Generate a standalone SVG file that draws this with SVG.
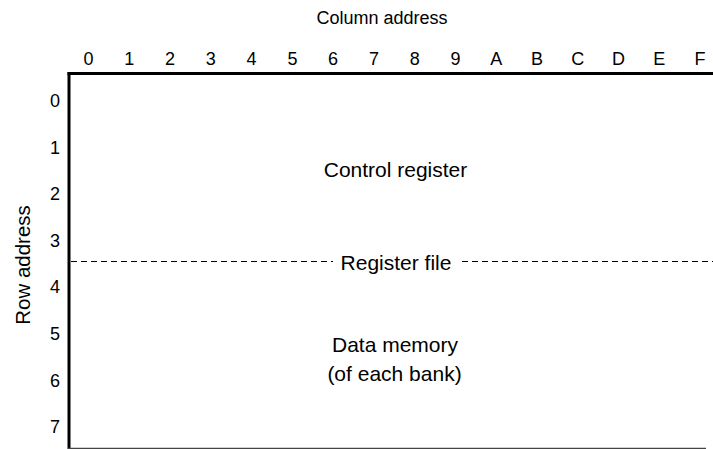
<svg xmlns="http://www.w3.org/2000/svg" width="713" height="449" viewBox="0 0 713 449">
<style>
text{font-family:"Liberation Sans",Arial,sans-serif;font-size:18px;fill:#000;text-anchor:middle}
.big{font-size:21px}
.axis{stroke:#000;stroke-width:3;fill:none}
.dash{stroke:#000;stroke-width:1.2;stroke-dasharray:6 4;fill:none}
</style>
<rect width="713" height="449" fill="#fff"/>
<g id="column-axis">
<text x="382" y="24">Column address</text>
<text x="88.5" y="65">0</text><text x="129.3" y="65">1</text><text x="170" y="65">2</text><text x="210.8" y="65">3</text>
<text x="251.6" y="65">4</text><text x="292.4" y="65">5</text><text x="333.1" y="65">6</text><text x="373.9" y="65">7</text>
<text x="414.7" y="65">8</text><text x="455.4" y="65">9</text><text x="496.2" y="65">A</text><text x="537" y="65">B</text>
<text x="577.7" y="65">C</text><text x="618.5" y="65">D</text><text x="659.3" y="65">E</text><text x="700" y="65">F</text>
</g>
<g id="row-axis">
<text class="big" style="font-size:20.5px" transform="translate(30,265) rotate(-90)">Row address</text>
<text x="55" y="107">0</text><text x="55" y="153.6">1</text><text x="55" y="200.2">2</text><text x="55" y="246.8">3</text>
<text x="55" y="293.4">4</text><text x="55" y="340">5</text><text x="55" y="386.6">6</text><text x="55" y="433.2">7</text>
</g>
<g id="frame">
<line class="axis" x1="67.5" y1="73.5" x2="713" y2="73.5"/>
<line class="axis" x1="69" y1="72" x2="69" y2="449"/>
<line x1="68" y1="448.5" x2="706" y2="448.5" stroke="#444" stroke-width="1.5"/>
</g>
<g id="connectors">
<line class="dash" x1="71" y1="261.5" x2="333" y2="261.5"/>
<line class="dash" x1="462" y1="261.5" x2="713" y2="261.5"/>
</g>
<g id="control-register"><text class="big" x="395.5" y="177">Control register</text></g>
<g id="register-file"><text class="big" x="396" y="270">Register file</text></g>
<g id="data-memory"><text class="big" x="395" y="352">Data memory</text><text class="big" x="394.5" y="381">(of each bank)</text></g>
</svg>
